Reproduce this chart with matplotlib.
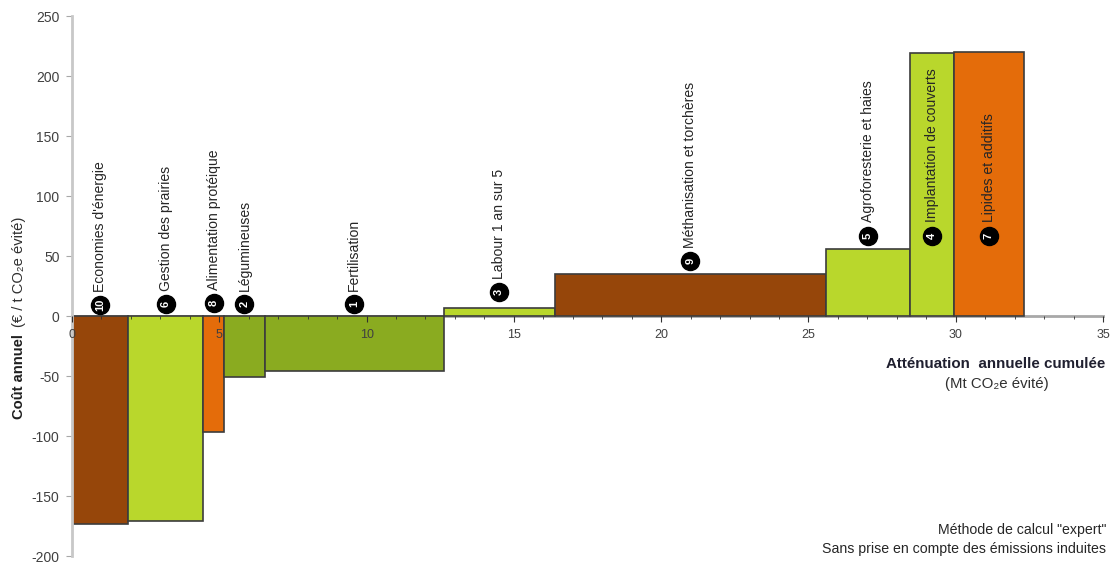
import matplotlib
matplotlib.use('Agg')
import matplotlib.pyplot as plt
import numpy as np

plt.rcParams['font.family'] = ['Liberation Sans', 'DejaVu Sans']
plt.rcParams['axes.unicode_minus'] = False

# mesures triees par cout croissant
names = ["Economies d'énergie", 'Gestion des prairies', 'Alimentation protéique', 'Légumineuses',
         'Fertilisation', 'Labour 1 an sur 5', 'Méthanisation et torchères',
         'Agroforesterie et haies', 'Implantation de couverts', 'Lipides et additifs']
numbers = ['10', '6', '8', '2', '1', '3', '9', '5', '4', '7']
widths = [1.9, 2.55, 0.71, 1.39, 6.07, 3.77, 9.2, 2.86, 1.49, 2.37]
costs = [-173, -171, -97, -51, -46, 7, 35, 56, 219, 220]
colors = ['#96460a', '#b9d72c', '#e46c0a', '#8aab20', '#8aab20',
          '#b9d72c', '#96460a', '#b9d72c', '#b9d72c', '#e46c0a']
# hauteur des pastilles
badge_y = [9, 10, 11, 10, 10, 20, 46, 67, 67, 67]

fig = plt.figure(figsize=(11.15, 5.63), dpi=100)
ax = fig.add_axes([72 / 1115, 7 / 563, (1103 - 72) / 1115, 540 / 563])

lefts = np.concatenate(([0], np.cumsum(widths)[:-1]))
ax.bar(lefts, costs, width=widths, align='edge', color=colors, edgecolor='#3c3c3c', linewidth=1.2, zorder=2)

for left, w, name, num, y in zip(lefts, widths, names, numbers, badge_y):
    xc = left + w / 2
    ax.plot(xc, y, 'o', color='black', markersize=13, zorder=3)
    ax.text(xc, y, num, color='white', fontsize=8, fontweight='bold', ha='center', va='center',
            rotation=90, zorder=4)
    ax.text(xc, y + 11, name, color='#262626', fontsize=10.1, rotation=90, ha='center', va='bottom', zorder=4)

ax.set_xlim(0, 35)
ax.set_ylim(-200, 250)
ax.set_yticks(range(-200, 251, 50))
ax.set_xticks(range(0, 36, 5))
ax.set_xticks(range(0, 36), minor=True)
ax.xaxis.set_zorder(5)
ax.spines['top'].set_visible(False)
ax.spines['right'].set_visible(False)
ax.spines['bottom'].set_position(('data', 0))
ax.spines['left'].set_color('#c8c8c8')
ax.spines['left'].set_linewidth(2)
ax.spines['bottom'].set_color('#a8a8a8')
ax.spines['bottom'].set_linewidth(2)
ax.spines['bottom'].set_zorder(1)
ax.tick_params(axis='y', labelsize=10, labelcolor='#404040', color='#a8a8a8', length=4, pad=5)
ax.tick_params(axis='x', which='major', labelsize=9, labelcolor='#404040', color='#303030', length=4, pad=5)
ax.tick_params(axis='x', which='minor', color='#303030', length=2.5)

fig.text(19 / 1115, 1 - 377 / 563, 'Coût annuel', fontsize=10.6, fontweight='bold', rotation=90,
         ha='center', va='center', color='#202020')
fig.text(19 / 1115, 1 - 272 / 563, '(€ / t CO₂e évité)', fontsize=10.6, rotation=90,
         ha='center', va='center', color='#303030')

fig.text(1105 / 1115, 1 - 364 / 563, 'Atténuation  annuelle cumulée', fontsize=10.9, fontweight='bold',
         ha='right', va='center', color='#202030')
fig.text(1049 / 1115, 1 - 384 / 563, '(Mt CO₂e évité)', fontsize=10.8, ha='right', va='center', color='#303030')
fig.text(1106 / 1115, 1 - 530 / 563, 'Méthode de calcul "expert"', fontsize=10.2, ha='right', va='center', color='#262626')
fig.text(1106 / 1115, 1 - 549 / 563, 'Sans prise en compte des émissions induites', fontsize=10.2,
         ha='right', va='center', color='#262626')

fig.savefig('out.png', dpi=100)
